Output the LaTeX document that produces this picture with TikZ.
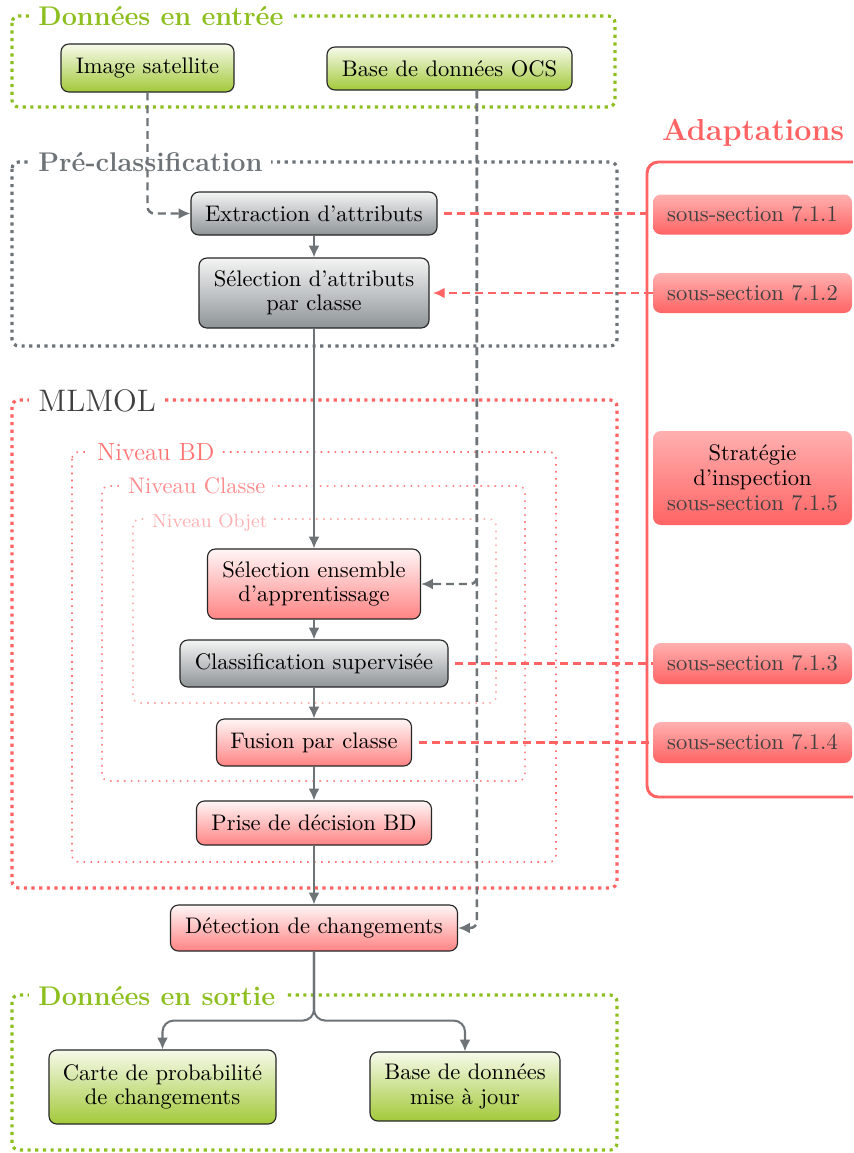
\documentclass[tikz,border=0pt]{standalone}
\usepackage{fontspec}
\usetikzlibrary{arrows.meta,calc}
\definecolor{grn}{HTML}{8DBF1F}
\definecolor{gTop}{HTML}{F6FAEA}
\definecolor{gBot}{HTML}{A3C93A}
\definecolor{gryT}{HTML}{6E7377}
\definecolor{kTop}{HTML}{F4F4F4}
\definecolor{kBot}{HTML}{8E9497}
\definecolor{redT}{HTML}{FF6363}
\definecolor{rTop}{HTML}{FFF6F6}
\definecolor{rBot}{HTML}{FF8484}
\definecolor{aTop}{HTML}{FFB0B0}
\definecolor{aBot}{HTML}{FF6464}
\definecolor{lvA}{HTML}{FF7373}
\definecolor{lvB}{HTML}{FF8C8C}
\definecolor{lvC}{HTML}{FFB0B0}
\definecolor{dk}{HTML}{404040}
\begin{document}
\begin{tikzpicture}[x=0.444pt,y=-0.444pt,
  sz/.style 2 args={minimum width=#1*0.444pt, minimum height=#2*0.444pt},
  box/.style={draw=black!85, line width=0.5pt, rounded corners=3.5pt, align=center,
    inner sep=0pt, font=\fontsize{10}{10.8}\selectfont, text=black},
  gbox/.style={box, top color=gTop, bottom color=gBot},
  kbox/.style={box, top color=kTop, bottom color=kBot},
  rbox/.style={box, top color=rTop, bottom color=rBot},
  abox/.style={draw=none, rounded corners=3.5pt, align=center, inner sep=0pt,
    top color=aTop, bottom color=aBot, text=dk, font=\fontsize{10}{11}\selectfont,
    minimum width=199*0.444pt},
  bigframe/.style={line width=1.4pt, dash pattern=on 1.4pt off 2pt, rounded corners=3pt},
  smallframe/.style={line width=0.7pt, dash pattern=on 0.7pt off 2.4pt, rounded corners=3pt},
  ftitle/.style={anchor=west, fill=white, inner xsep=4pt, inner ysep=1pt},
  stitle/.style={anchor=west, fill=white, inner xsep=3pt, inner ysep=1pt},
  tip/.style={-{Latex[length=5.2pt,width=4.8pt]}},
  garr/.style={draw=gryT, line width=0.9pt, tip},
  kdash/.style={draw=gryT, line width=1.1pt, dash pattern=on 3.5pt off 2.2pt, rounded corners=3pt},
  rdash/.style={draw=redT, line width=1pt, dash pattern=on 3.6pt off 2.2pt, shorten <=3pt}
]
\clip (0,0) rectangle (853,1153);
\fill[white] (0,0) rectangle (853,1153);

% frames
\draw[bigframe, grn] (12,16) rectangle (615,107);
\node[ftitle, text=grn, font=\fontsize{12}{14}\bfseries] (tin) at (29,16) {Données en entrée};
\draw[bigframe, gryT] (12,162) rectangle (617,346);
\node[ftitle, text=gryT, font=\fontsize{12}{14}\bfseries] (tpre) at (29,162) {Pré-classification};
\draw[bigframe, redT] (12,400) rectangle (617,888);
\node[ftitle, text=dk, font=\fontsize{13.8}{16}\selectfont] (tml) at (29,401) {MLMOL};
\draw[smallframe, lvA] (72,452) rectangle (556,862);
\node[stitle, text=lvA, font=\fontsize{11}{13}\selectfont] (tbd) at (90,452) {Niveau BD};
\draw[smallframe, lvB] (102,486) rectangle (525,781);
\node[stitle, text=lvB, font=\fontsize{10}{12}\selectfont] (tcl) at (121,486) {Niveau Classe};
\draw[smallframe, lvC] (133,519) rectangle (496,703);
\node[stitle, text=lvC, font=\fontsize{8.5}{10}\selectfont] (tob) at (145,523) {Niveau Objet};
\draw[bigframe, grn] (12,995) rectangle (617,1150);
\node[ftitle, text=grn, font=\fontsize{12}{14}\bfseries] (tout) at (29,996) {Données en sortie};

% adaptations
\node[text=redT, font=\fontsize{13.5}{16}\bfseries] (tad) at (753,133) {Adaptations};
\draw[redT, line width=1.3pt, rounded corners=5pt] (647,162) rectangle (890,797);

% nodes
\node[gbox, sz={173}{48}] (img) at (147.5,68) {Image satellite};
\node[gbox, sz={245}{43}] (ocs) at (449.5,68.5) {Base de données OCS};
\node[kbox, sz={246}{43}] (extr) at (314,213.5) {Extraction d'attributs};
\node[kbox, sz={230}{70}] (selattr) at (314,293) {Sélection d'attributs\\par classe};
\node[rbox, sz={213}{70}] (selens) at (314,584) {Sélection ensemble\\d'apprentissage};
\node[kbox, sz={268}{47}] (classif) at (314,663.5) {Classification supervisée};
\node[rbox, sz={195}{47}] (fusion) at (314,742.5) {Fusion par classe};
\node[rbox, sz={235}{44}] (prise) at (314,823) {Prise de décision BD};
\node[rbox, sz={287}{46}] (detect) at (314,928) {Détection de changements};
\node[gbox, sz={227}{74}] (carte) at (162.5,1087) {Carte de probabilité\\de changements};
\node[gbox, sz={190}{69}] (bdmaj) at (465,1086.5) {Base de données\\mise à jour};

\node[abox, minimum height=40*0.444pt] (s711) at (752.5,214.5) {sous-section 7.1.1};
\node[abox, minimum height=40*0.444pt] (s712) at (752.5,293) {sous-section 7.1.2};
\node[abox, minimum height=94*0.444pt] (strat) at (752.5,478) {\textcolor{black}{Stratégie}\\\textcolor{black}{d'inspection}\\sous-section 7.1.5};
\node[abox, minimum height=41*0.444pt] (s713) at (752.5,663.5) {sous-section 7.1.3};
\node[abox, minimum height=41*0.444pt] (s714) at (752.5,742.5) {sous-section 7.1.4};

% main flow
\draw[garr] (extr.south) -- (selattr.north);
\draw[garr] (selattr.south) -- (selens.north);
\draw[garr] (selens.south) -- (classif.north);
\draw[garr] (classif.south) -- (fusion.north);
\draw[garr] (fusion.south) -- (prise.north);
\draw[garr] (prise.south) -- (detect.north);
\draw[garr, rounded corners=5pt] (detect.south) -- ++(0,69) -| (carte.north);
\draw[garr, rounded corners=5pt] (detect.south) -- ++(0,69) -| (bdmaj.north);

% dashed inputs
\draw[kdash, tip] (img.south) |- (extr.west);
\draw[kdash, tip] ([xshift=12.2pt]ocs.south) |- (selens.east);
\draw[kdash, tip] ([xshift=12.2pt]ocs.south) |- (detect.east);

% adaptation links
\draw[rdash] (extr.east) -- (extr.east -| s711.west);
\draw[rdash, tip, shorten <=0pt, shorten >=1.5pt] (s712.west) -- (s712.west -| selattr.east);
\draw[rdash] (classif.east) -- (classif.east -| s713.west);
\draw[rdash] (fusion.east) -- (fusion.east -| s714.west);
\end{tikzpicture}
\end{document}
